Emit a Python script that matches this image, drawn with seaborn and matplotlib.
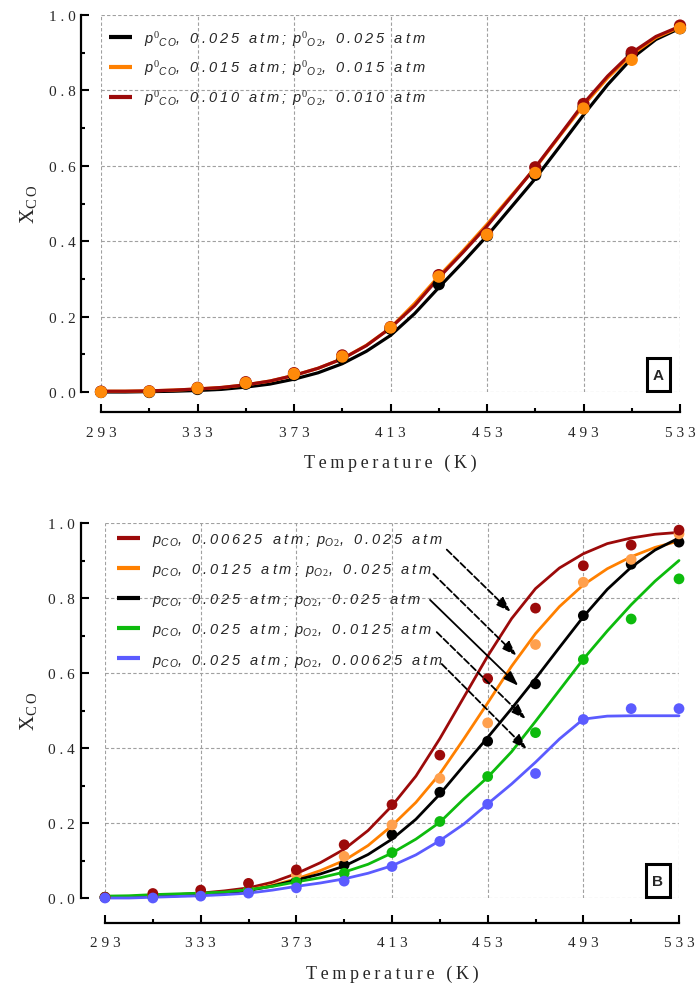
import numpy as np
import pandas as pd
import seaborn as sns
import matplotlib.pyplot as plt
from matplotlib.lines import Line2D
from matplotlib.patches import Rectangle
from matplotlib.font_manager import FontProperties

# ---------------- data ----------------
# temperatures of the smooth model curves and of the measured points (K)
temps_fit = [293, 303, 313, 323, 333, 343, 353, 363, 373, 383, 393, 403, 413,
             423, 433, 443, 453, 463, 473, 483, 493, 503, 513, 523, 533]
temps_pts = [293, 313, 333, 353, 373, 393, 413, 433, 453, 473, 493, 513, 533]

# Panel A: equal feed pressures of CO and O2
a_fit_025 = [0.000, 0.000, 0.001, 0.002, 0.004, 0.007, 0.013, 0.021, 0.034, 0.051, 0.075, 0.108, 0.150,
             0.208, 0.277, 0.344, 0.414, 0.490, 0.566, 0.650, 0.735, 0.815, 0.885, 0.935, 0.965]
a_fit_015 = [0.002, 0.002, 0.003, 0.005, 0.008, 0.012, 0.019, 0.029, 0.044, 0.063, 0.088, 0.124, 0.170,
             0.235, 0.307, 0.374, 0.445, 0.520, 0.594, 0.678, 0.760, 0.833, 0.895, 0.940, 0.968]
a_fit_010 = [0.002, 0.002, 0.003, 0.005, 0.008, 0.012, 0.019, 0.029, 0.044, 0.063, 0.088, 0.123, 0.170,
             0.229, 0.303, 0.370, 0.440, 0.517, 0.596, 0.680, 0.765, 0.838, 0.900, 0.943, 0.970]
a_pts_025 = [0.000, 0.000, 0.008, 0.022, 0.045, 0.090, 0.168, 0.286, 0.415, 0.576, 0.755, 0.895, 0.965]
a_pts_015 = [0.000, 0.001, 0.010, 0.024, 0.048, 0.094, 0.171, 0.306, 0.417, 0.581, 0.752, 0.881, 0.965]
a_pts_010 = [0.001, 0.002, 0.011, 0.026, 0.050, 0.097, 0.172, 0.310, 0.420, 0.596, 0.764, 0.901, 0.972]
a_feeds = ["0.025", "0.015", "0.010"]

# Panel B: one partial pressure varied, the other kept at 0.025 atm
b_fit_co00625 = [0.003, 0.004, 0.006, 0.009, 0.013, 0.019, 0.027, 0.042, 0.065, 0.094, 0.130, 0.180, 0.246,
                 0.325, 0.425, 0.535, 0.645, 0.745, 0.825, 0.880, 0.918, 0.945, 0.960, 0.970, 0.975]
b_fit_co0125 = [0.002, 0.003, 0.004, 0.006, 0.009, 0.014, 0.022, 0.034, 0.051, 0.073, 0.100, 0.140, 0.193,
                0.255, 0.331, 0.424, 0.520, 0.618, 0.705, 0.777, 0.835, 0.878, 0.910, 0.935, 0.952]
b_fit_ref = [0.002, 0.003, 0.004, 0.006, 0.009, 0.013, 0.020, 0.032, 0.048, 0.064, 0.085, 0.116, 0.157,
             0.210, 0.277, 0.353, 0.428, 0.505, 0.585, 0.668, 0.750, 0.823, 0.882, 0.928, 0.960]
b_fit_o20125 = [0.005, 0.006, 0.009, 0.011, 0.013, 0.016, 0.022, 0.031, 0.043, 0.054, 0.069, 0.090, 0.120,
                0.157, 0.202, 0.264, 0.322, 0.390, 0.471, 0.554, 0.637, 0.712, 0.782, 0.845, 0.900]
b_fit_o200625 = [0.000, 0.000, 0.002, 0.004, 0.006, 0.009, 0.013, 0.021, 0.031, 0.040, 0.051, 0.066, 0.086,
                 0.115, 0.153, 0.197, 0.251, 0.304, 0.362, 0.424, 0.477, 0.485, 0.486, 0.486, 0.486]
b_pts_co00625 = [0.002, 0.012, 0.021, 0.039, 0.075, 0.142, 0.249, 0.381, 0.585, 0.773, 0.886, 0.941, 0.981]
b_pts_co0125 = [0.002, 0.005, 0.010, 0.020, 0.062, 0.111, 0.195, 0.319, 0.467, 0.676, 0.842, 0.903, 0.971]
b_pts_ref = [0.002, 0.004, 0.008, 0.018, 0.045, 0.088, 0.169, 0.282, 0.418, 0.571, 0.753, 0.890, 0.949]
b_pts_o20125 = [0.002, 0.004, 0.008, 0.020, 0.042, 0.066, 0.121, 0.204, 0.324, 0.441, 0.636, 0.744, 0.851]
b_pts_o200625 = [0.000, 0.000, 0.005, 0.013, 0.027, 0.045, 0.084, 0.151, 0.250, 0.332, 0.476, 0.505, 0.505]
b_pco = ["0.00625", "0.0125", "0.025", "0.025", "0.025"]
b_po2 = ["0.025", "0.025", "0.025", "0.0125", "0.00625"]

x_major = [293, 333, 373, 413, 453, 493, 533]
x_minor = [313, 353, 393, 433, 473, 513]
y_major = [0.0, 0.2, 0.4, 0.6, 0.8, 1.0]
y_minor = [0.1, 0.3, 0.5, 0.7, 0.9]

# ---------------- style ----------------
sns.set_theme(style="ticks")
plt.rcParams.update({
    "font.family": ["Liberation Serif", "DejaVu Serif"],
    "mathtext.fontset": "custom",
    "mathtext.rm": "Liberation Serif",
    "mathtext.it": "Liberation Sans:italic",
    "mathtext.bf": "Liberation Sans:bold",
    "axes.linewidth": 1.6,
    "axes.edgecolor": "black",
})

THIN = "\u2009"
WIDE = "\u2005"


def spaced(s, gap=THIN):
    return gap.join(s)


SERIF = ["Liberation Serif", "DejaVu Serif"]
SANS = ["Liberation Sans", "DejaVu Sans"]

DARKRED = "#9C0A0A"
ORANGE = "#FF8000"
ORANGE_PT = "#FFA04D"
GREEN = "#0DBB0D"
BLUE = "#5B5BFF"


def long_frame(temps, columns, order):
    parts = [pd.DataFrame({"T": temps, "X": columns[name], "series": name}) for name in order]
    return pd.concat(parts, ignore_index=True)


def style_axes(ax, offset_px, box_letter):
    ax.set_xlim(293, 533)
    ax.set_ylim(0, 1)
    ax.set_xticks(x_major)
    ax.set_xticks(x_minor, minor=True)
    ax.set_yticks(y_major)
    ax.set_yticks(y_minor, minor=True)
    ax.set_xticklabels([spaced(str(t), WIDE) for t in x_major], fontfamily=SERIF, fontsize=13)
    ax.set_yticklabels([spaced(f"{v:.1f}", WIDE) for v in y_major], fontfamily=SERIF, fontsize=13)
    ax.grid(which="major", linestyle=(0, (3, 2)), color="#a0a0a0", linewidth=0.8)
    ax.set_axisbelow(True)
    sns.despine(ax=ax, offset=offset_px * 0.72)
    ax.spines["left"].set_bounds(0, 1)
    ax.spines["bottom"].set_bounds(293, 533)
    ax.tick_params(which="major", direction="in", length=5.5, width=1.5, color="black")
    ax.tick_params(which="minor", direction="in", length=3.2, width=1.5, color="black")
    ax.tick_params(axis="y", which="major", pad=4)
    ax.tick_params(axis="x", which="major", pad=10)
    ax.set_xlabel(spaced("Temperature (K)"), fontfamily=SERIF, fontsize=13, labelpad=11)
    ax.set_ylabel(r"$\mathrm{X}_{\mathrm{C\,O}}$", fontsize=15, labelpad=6)
    ax.add_patch(Rectangle((0.9425, 0.002), 0.041, 0.088, transform=ax.transAxes,
                           facecolor="white", edgecolor="black", linewidth=2.2,
                           clip_on=False, zorder=5))
    ax.text(0.963, 0.046, box_letter, transform=ax.transAxes, ha="center", va="center",
            fontfamily=SANS, fontweight="bold", fontsize=11, zorder=6)


def draw_panel(ax, fit_cols, pts_cols, line_colors, pt_colors, lw, ms, line_order, pt_order):
    fit_df = long_frame(temps_fit, fit_cols, line_order)
    pts_df = long_frame(temps_pts, pts_cols, pt_order)
    sns.lineplot(data=fit_df, x="T", y="X", hue="series", hue_order=line_order,
                 palette=line_colors, linewidth=lw, legend=False, ax=ax, sort=False)
    for ln in ax.lines:
        ln.set_clip_on(False)
        ln.set_solid_capstyle("round")
        ln.set_solid_joinstyle("round")
    sns.scatterplot(data=pts_df, x="T", y="X", hue="series", hue_order=pt_order,
                    palette=pt_colors, s=ms, linewidth=0, legend=False, ax=ax, zorder=4)
    for coll in ax.collections:
        coll.set_clip_on(False)


fig = plt.figure(figsize=(6.97, 9.87), dpi=100)
axA = fig.add_axes([101 / 697, (987 - 393) / 987, 579 / 697, 377 / 987])
axB = fig.add_axes([105 / 697, (987 - 899) / 987, 574 / 697, 375 / 987])

# ---------------- panel A ----------------
a_names = [f"A{p}" for p in a_feeds]
draw_panel(
    axA,
    dict(zip(a_names, [a_fit_025, a_fit_015, a_fit_010])),
    dict(zip(a_names, [a_pts_025, a_pts_015, a_pts_010])),
    dict(zip(a_names, ["black", ORANGE, DARKRED])),
    dict(zip(a_names, ["black", "#FF8A0A", DARKRED])),
    lw=2.3, ms=78,
    line_order=a_names,
    pt_order=[a_names[0], a_names[2], a_names[1]],
)
style_axes(axA, 20, "A")

leg_font = FontProperties(family=SANS, style="italic", size=10.5)


def label_a(p):
    return (r"$\mathit{p}^{\mathit{0}}{}_{\mathit{C\,O}}$" + spaced(f", {p} atm; ")
            + r"$\mathit{p}^{\mathit{0}}{}_{\mathit{O\,2}}$" + spaced(f", {p} atm"))


handles_a = [Line2D([], [], color=c, lw=3.0, solid_capstyle="butt") for c in ["black", ORANGE, DARKRED]]
axA.legend(handles_a, [label_a(p) for p in a_feeds], loc="upper left",
           bbox_to_anchor=(109 / 697, 1 - 29 / 987), bbox_transform=fig.transFigure,
           frameon=False, prop=leg_font, handlelength=1.55, handletextpad=0.85,
           labelspacing=0.7, borderpad=0, borderaxespad=0)

# ---------------- panel B ----------------
b_names = [f"B{i}" for i in range(5)]
b_line_colors = [DARKRED, ORANGE, "black", GREEN, BLUE]
b_pt_colors = [DARKRED, ORANGE_PT, "black", GREEN, BLUE]
draw_panel(
    axB,
    dict(zip(b_names, [b_fit_co00625, b_fit_co0125, b_fit_ref, b_fit_o20125, b_fit_o200625])),
    dict(zip(b_names, [b_pts_co00625, b_pts_co0125, b_pts_ref, b_pts_o20125, b_pts_o200625])),
    dict(zip(b_names, b_line_colors)),
    dict(zip(b_names, b_pt_colors)),
    lw=2.0, ms=60,
    line_order=b_names,
    pt_order=[b_names[2], b_names[1], b_names[3], b_names[0], b_names[4]],
)
style_axes(axB, 24.5, "B")


def label_b(pco, po2):
    return (r"$\mathit{p}_{\mathit{C\,O}}$" + spaced(f", {pco} atm; ")
            + r"$\mathit{p}_{\mathit{O\,2}}$" + spaced(f", {po2} atm"))


handles_b = [Line2D([], [], color=c, lw=3.0, solid_capstyle="butt") for c in b_line_colors]
axB.legend(handles_b, [label_b(a, b) for a, b in zip(b_pco, b_po2)], loc="upper left",
           bbox_to_anchor=(117 / 697, 1 - 532 / 987), bbox_transform=fig.transFigure,
           frameon=False, prop=leg_font, handlelength=1.55, handletextpad=0.85,
           labelspacing=0.9, borderpad=0, borderaxespad=0)

# arrows from each legend entry to its curve
arrow_tails = [(435.9, 0.929), (430.3, 0.864), (428.9, 0.795), (431.7, 0.709), (433.8, 0.624)]
arrow_heads = [(462.6, 0.763), (465.1, 0.646), (465.8, 0.566), (468.9, 0.477), (469.3, 0.397)]
arrow_styles = ["--", "--", "-", "--", "--"]
for tail, head, ls in zip(arrow_tails, arrow_heads, arrow_styles):
    axB.annotate("", xy=head, xytext=tail,
                 arrowprops=dict(arrowstyle="-|>,head_length=1.0,head_width=0.35",
                                 mutation_scale=9, color="black", lw=1.3, linestyle=ls,
                                 shrinkA=0, shrinkB=0),
                 zorder=6)

fig.savefig("out.png", dpi=100)
